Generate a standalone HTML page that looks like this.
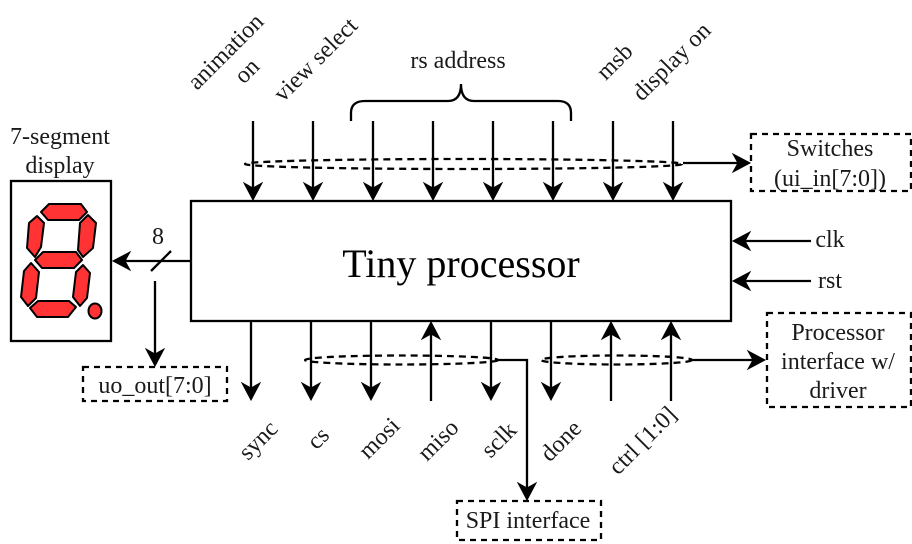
<!DOCTYPE html>
<html>
<head>
<meta charset="utf-8">
<style>
html,body{margin:0;padding:0;background:#fff;width:912px;height:544px;overflow:hidden}
svg{display:block}
text{font-family:"Liberation Serif",serif;font-size:24px;fill:#1a1a1a;text-anchor:middle}
.l{fill:none;stroke:#000;stroke-width:2.300}
.d{fill:none;stroke:#000;stroke-width:2.300;stroke-dasharray:6 5}
.e{fill:none;stroke:#000;stroke-width:2.300;stroke-dasharray:7 5}
.h{fill:#000;stroke:#000;stroke-width:1}
.s{fill:#ff3333;stroke:#000;stroke-width:2;stroke-linejoin:round}
</style>
</head>
<body>
<svg xmlns="http://www.w3.org/2000/svg" width="912" height="544" viewBox="0 0 912 544">

<!-- main box -->
<rect x="191" y="201" width="540" height="120" fill="#fff" stroke="#000" stroke-width="2.300"/>
<text x="461" y="277" style="font-size:40px;fill:#000">Tiny processor</text>

<!-- top dashed ellipse -->
<ellipse class="e" cx="463.500" cy="164" rx="218.500" ry="5"/>

<!-- top arrows -->
<path class="l" d="M253 121V190M313 121V190M373 121V190M433 121V190M493 121V190M553 121V190M613 121V190M673 121V190"/>
<path class="h" d="M253 200l-9 -17l9 5l9 -5zM313 200l-9 -17l9 5l9 -5zM373 200l-9 -17l9 5l9 -5zM433 200l-9 -17l9 5l9 -5zM493 200l-9 -17l9 5l9 -5zM553 200l-9 -17l9 5l9 -5zM613 200l-9 -17l9 5l9 -5zM673 200l-9 -17l9 5l9 -5z"/>

<!-- brace -->
<path class="l" d="M351 121V113Q351 101 365 101H448Q461 101 461 84Q461 101 474 101H558Q571 101 571 113V121"/>
<text x="458" y="68">rs address</text>

<!-- top rotated labels -->
<text transform="translate(226,52) rotate(-45)" y="7">animation</text>
<text transform="translate(248,72) rotate(-45)" y="6">on</text>
<text transform="translate(316,60) rotate(-45)" y="7">view select</text>
<text transform="translate(615,62) rotate(-45)" y="7">msb</text>
<text transform="translate(672,62) rotate(-45)" y="7">display on</text>

<!-- switches -->
<path class="l" d="M683 163H740"/>
<path class="h" d="M750 163l-17 -9l5 9l-5 9z"/>
<rect class="d" x="751" y="134" width="160" height="57"/>
<text x="830" y="156">Switches</text>
<text x="830" y="186">(ui_in[7:0])</text>

<!-- bottom dashed ellipses -->
<ellipse class="e" cx="401.500" cy="360" rx="96.500" ry="4.500"/>
<ellipse class="e" cx="616.500" cy="360" rx="75.500" ry="4.500"/>

<!-- bottom arrows -->
<path class="l" d="M251 321V390M311 321V390M371 321V390M491 321V390M551 321V390M431 401V332M611 401V332M671 401V332"/>
<path class="h" d="M251 400l-9 -17l9 5l9 -5zM311 400l-9 -17l9 5l9 -5zM371 400l-9 -17l9 5l9 -5zM491 400l-9 -17l9 5l9 -5zM551 400l-9 -17l9 5l9 -5z"/>
<path class="h" d="M431 322l-9 17l9 -5l9 5zM611 322l-9 17l9 -5l9 5zM671 322l-9 17l9 -5l9 5z"/>

<path class="l" d="M498 360H527V490"/>
<path class="h" d="M527 500l-9 -17l9 5l9 -5z"/>
<path class="l" d="M692 360H755"/>
<path class="h" d="M765 360l-17 -9l5 9l-5 9z"/>

<!-- bottom rotated labels -->
<text transform="translate(260,442) rotate(-45)" y="5">sync</text>
<text transform="translate(320,440) rotate(-45)" y="5">cs</text>
<text transform="translate(381,440) rotate(-45)" y="5">mosi</text>
<text transform="translate(440,442) rotate(-45)" y="5">miso</text>
<text transform="translate(500,441) rotate(-45)" y="6">sclk</text>
<text transform="translate(562,442) rotate(-45)" y="6">done</text>
<text transform="translate(643,441) rotate(-45)" y="7">ctrl [1:0]</text>

<!-- SPI -->
<rect class="d" x="457" y="501" width="144" height="39"/>
<text x="528" y="528">SPI interface</text>

<!-- Processor interface -->
<rect class="d" x="767" y="313" width="144" height="94"/>
<text x="838" y="340">Processor</text>
<text x="838" y="369">interface w/</text>
<text x="838" y="398">driver</text>

<!-- clk / rst -->
<path class="l" d="M811 241H743M811 281H743"/>
<path class="h" d="M733 241l17 -9l-5 9l5 9zM733 281l17 -9l-5 9l5 9z"/>
<text x="830" y="247">clk</text>
<text x="830" y="288">rst</text>

<!-- left side -->
<path class="l" d="M191 261H123"/>
<path class="h" d="M113 261l17 -9l-5 9l5 9z"/>
<path class="l" d="M151 271L171 251"/>
<text x="158" y="244">8</text>
<path class="l" d="M155 281V356"/>
<path class="h" d="M155 366l-9 -17l9 5l9 -5z"/>
<rect class="d" x="83" y="367" width="144" height="34"/>
<text x="155" y="393">uo_out[7:0]</text>

<!-- 7-seg -->
<text x="60" y="144">7-segment</text>
<text x="60" y="173">display</text>
<rect x="11" y="181" width="100" height="160" fill="#fff" stroke="#000" stroke-width="2.300"/>
<polygon class="s" points="49,204 81,204 87,212 79,220 48,220 41,212"/>
<polygon class="s" points="37,216 44,223 41,247 35,257 27,248 29,223"/>
<polygon class="s" points="88,215 96,223 93,248 83,257 78,250 80,223"/>
<polygon class="s" points="43,252 76,252 82,260 74,268 42,268 35,260"/>
<polygon class="s" points="31,263 39,272 36,298 28,306 21,297 24,271"/>
<polygon class="s" points="83,265 90,273 87,298 80,306 73,297 76,272"/>
<polygon class="s" points="38,301 69,301 76,307 68,317 37,317 30,308"/>
<ellipse class="s" cx="95" cy="311" rx="6.500" ry="7.500"/>
</svg>
</body>
</html>
